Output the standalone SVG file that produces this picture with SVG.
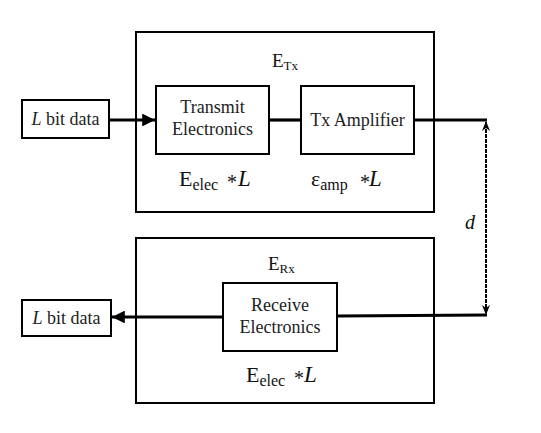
<svg xmlns="http://www.w3.org/2000/svg" width="541" height="433" viewBox="0 0 541 433">
<style>
text{font-family:"Liberation Serif","Times New Roman",serif;fill:#111}
.box{fill:#fff;stroke:#000;stroke-width:2}
.lbl{font-size:18px;fill:#222}
.wire{fill:none;stroke:#000;stroke-width:3.2}
.dot{fill:none;stroke:#000;stroke-width:2;stroke-dasharray:3 2}
</style>
<defs>
<marker id="ah" viewBox="0 0 10 10" refX="10" refY="5" markerWidth="4" markerHeight="4" orient="auto" markerUnits="strokeWidth">
<path d="M0,0 L10,5 L0,10 Z" fill="#000"/>
</marker>
<marker id="dh" viewBox="0 0 10 10" refX="9" refY="5" markerWidth="5" markerHeight="5" orient="auto" markerUnits="strokeWidth">
<path d="M0,1 L10,5 L0,9 L3,5 Z" fill="#000"/>
</marker>
</defs>
<rect width="541" height="433" fill="#fff"/>
<g id="tx-block">
<rect class="box" x="136" y="32" width="298" height="180"/>
<text x="272" y="67" font-size="19">E<tspan font-size="13" dy="3">Tx</tspan></text>
</g>
<g id="rx-block">
<rect class="box" x="136" y="238" width="298" height="165"/>
<text x="268" y="270" font-size="19">E<tspan font-size="13" dy="3">Rx</tspan></text>
</g>
<g id="connectors">
<line class="wire" x1="110" y1="120" x2="155" y2="120" marker-end="url(#ah)"/>
<line class="wire" x1="269" y1="120" x2="301" y2="120"/>
<line class="wire" x1="414" y1="120" x2="487" y2="120"/>
<polyline class="wire" points="487,315 337,316"/>
<line class="wire" x1="223" y1="317" x2="112" y2="317" marker-end="url(#ah)"/>
<line class="dot" x1="486" y1="313" x2="486" y2="122" marker-end="url(#dh)"/>
<line class="dot" x1="486" y1="124" x2="486" y2="314" marker-end="url(#dh)"/>
<text x="465" y="229" font-size="20" font-style="italic">d</text>
</g>
<g id="src-data">
<rect class="box" x="22" y="100" width="87" height="38"/>
<text class="lbl" x="65.5" y="125" text-anchor="middle"><tspan font-style="italic">L</tspan> bit data</text>
</g>
<g id="dst-data">
<rect class="box" x="22" y="300" width="89" height="36"/>
<text class="lbl" x="66.5" y="324" text-anchor="middle"><tspan font-style="italic">L</tspan> bit data</text>
</g>
<g id="transmit-electronics">
<rect class="box" x="156" y="86" width="113" height="68"/>
<text class="lbl" x="212.5" y="113" text-anchor="middle">Transmit</text>
<text class="lbl" x="212.5" y="135" text-anchor="middle">Electronics</text>
<text x="179" y="186" font-size="22">E<tspan font-size="16" dy="4">elec</tspan><tspan font-size="20" dy="-1" x="227">*</tspan><tspan font-style="italic" font-size="23" dy="-3" x="238">L</tspan></text>
</g>
<g id="tx-amplifier">
<rect class="box" x="301" y="86" width="113" height="68"/>
<text class="lbl" x="357.5" y="126" text-anchor="middle">Tx Amplifier</text>
<text x="311" y="186" font-size="22">ε<tspan font-size="16" dy="4">amp</tspan><tspan font-size="20" dy="-1" x="360">*</tspan><tspan font-style="italic" font-size="23" dy="-3" x="369">L</tspan></text>
</g>
<g id="receive-electronics">
<rect class="box" x="223" y="283" width="114" height="68"/>
<text class="lbl" x="280" y="311" text-anchor="middle">Receive</text>
<text class="lbl" x="280" y="333" text-anchor="middle">Electronics</text>
<text x="246" y="382" font-size="22">E<tspan font-size="16" dy="4">elec</tspan><tspan font-size="20" dy="-1" x="294">*</tspan><tspan font-style="italic" font-size="23" dy="-3" x="304">L</tspan></text>
</g>
</svg>
